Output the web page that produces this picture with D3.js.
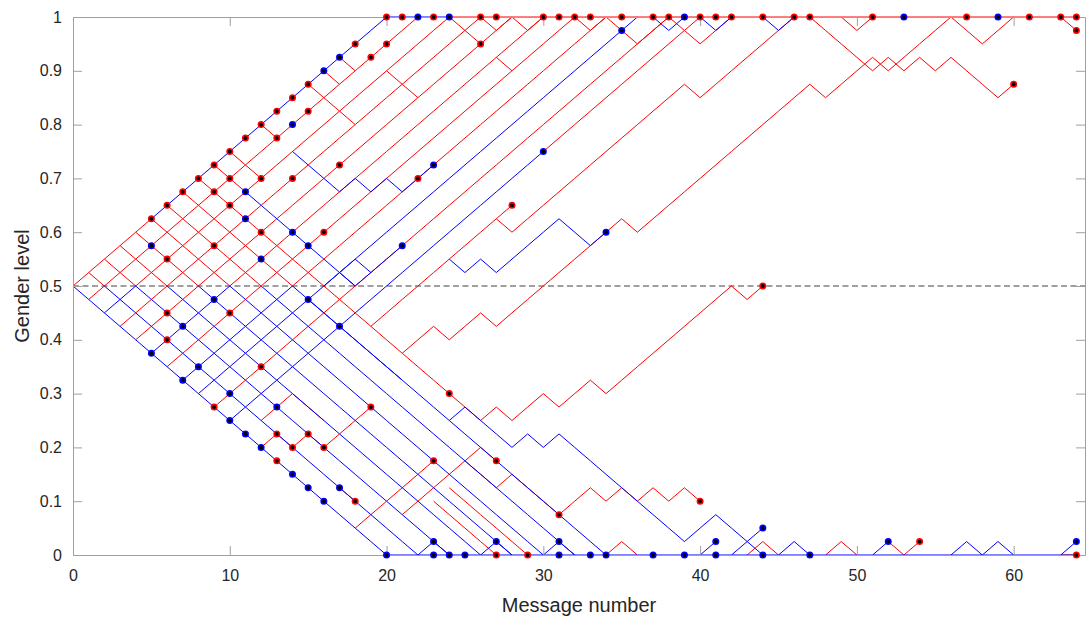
<!DOCTYPE html>
<html>
<head>
<meta charset="utf-8">
<script src="https://cdn.jsdelivr.net/npm/d3@7/dist/d3.min.js"></script>
<style>
  body { margin: 0; background: #fff; }
  text { font-family: "Liberation Sans", Arial, sans-serif; fill: #262626; }
</style>
</head>
<body>
<div id="chart-area"></div>
<script>
const MARGIN = { LEFT: 73, RIGHT: 1, TOP: 17, BOTTOM: 68 };
const WIDTH = 1086 - MARGIN.LEFT - MARGIN.RIGHT;
const HEIGHT = 623 - MARGIN.TOP - MARGIN.BOTTOM;

// one step of the gender level per message
const STEP = 0.025;

// paths: [start message, start level (in steps), runs: u=up d=down f=flat]
const redPaths = [
  [0, 20, "u5"],
  [1, 19, "u21"], [3, 17, "u23"], [4, 16, "u24"], [6, 14, "u26"],
  [4, 20, "u20"], [10, 20, "u20"], [14, 20, "u20"], [9, 11, "u29"], [30, 30, "u10"],
  [24, 40, "f40"],
  [1, 21, "d1"], [2, 22, "d2"], [3, 23, "d3"], [4, 24, "d4"], [5, 25, "d5"],
  [6, 26, "d6"], [7, 27, "d7"], [8, 28, "d16"], [9, 29, "d2"],
  [10, 30, "d2"], [12, 32, "d1"], [15, 35, "d3"], [16, 36, "d1"], [17, 37, "d1"],
  [20, 36, "d2"], [27, 37, "d1"],
  [24, 40, "d2"], [26, 40, "d1u1"], [28, 40, "d1u1"], [32, 40, "d1u1"], [34, 40, "d2u2"],
  [38, 40, "d2u2"], [49, 40, "d1u1"], [63, 40, "d1"],
  [47, 40, "d4u1d1u1d1u1d3u1"],
  [21, 15, "u2d1u2d1u8d1u11d1u3d1u4d2u2"],
  [24, 12, "d2u1d1u2d1u2d1u8d1u1"],
  [19, 17, "u9"], [27, 25, "d1u11d1u6"],
  [12, 8, "u1d1u1d1"], [12, 10, "u2d2"], [16, 8, "u3"], [17, 5, "d1"], [18, 2, "u5"], [21, 3, "u5d1"],
  [25, 7, "d2u1d3u2d1u1d1u1d1u1d1"], [23, 4, "d4"], [24, 5, "d5"],
  [34, 0, "u1d1"], [43, 0, "u1d1"], [48, 0, "u1d1"], [52, 1, "d1u1"], [63, 0, "f1"]
];

const bluePaths = [
  [5, 25, "u15f4"],
  [0, 20, "d20"], [20, 0, "f44"],
  [2, 18, "u2"], [5, 15, "u5"], [7, 13, "u7"], [8, 12, "u28"], [10, 10, "u20"],
  [2, 20, "d20"], [4, 20, "d20"], [6, 20, "d20"], [8, 20, "d20"], [10, 20, "d20"], [12, 20, "d20"],
  [14, 20, "d10u1d3u1d1u1d8u2d3"], [24, 10, "d10"],
  [11, 27, "d7"], [14, 30, "d3u1d1u1d1u2"], [15, 19, "d2"],
  [24, 22, "d1u1d1u4d2u1"],
  [16, 20, "u2d1u2"], [17, 21, "d1u1"], [17, 17, "d4"],
  [40, 0, "u1"], [42, 0, "u2"], [45, 0, "u1d1"], [51, 0, "u1"], [56, 0, "u1d1u1d1"],
  [63, 0, "u1"], [22, 0, "u1d1"], [26, 0, "u1d1"], [30, 0, "u1d1"],
  [37, 40, "d1u1"], [40, 40, "d1u1"], [44, 40, "d1u1"]
];

// end of a conversation: [message, level (in steps)]
const redDots = [
  [5, 25], [6, 26], [7, 27], [8, 28], [9, 29], [10, 30], [11, 31], [12, 32], [13, 33], [14, 34], [15, 35], [18, 38],
  [9, 27], [10, 28], [12, 28], [14, 28], [13, 31], [15, 33], [10, 26], [12, 24], [16, 24], [9, 23], [6, 22],
  [19, 37], [20, 38], [17, 29], [22, 28], [26, 38], [28, 26],
  [6, 18], [10, 18], [6, 16], [12, 14], [9, 11], [13, 7], [13, 9], [14, 8], [15, 9], [16, 8],
  [24, 12], [19, 11], [23, 7], [27, 7], [18, 4], [31, 3], [40, 4], [44, 20], [60, 35], [64, 39],
  [54, 1], [64, 0], [27, 0], [29, 0],
  [20, 40], [21, 40], [23, 40], [26, 40], [27, 40], [30, 40], [31, 40], [32, 40], [33, 40], [35, 40],
  [37, 40], [38, 40], [40, 40], [41, 40], [42, 40], [44, 40], [46, 40], [47, 40], [51, 40], [57, 40],
  [61, 40], [63, 40], [64, 40]
];

const blueDots = [
  [16, 36], [17, 37], [11, 27], [14, 32], [11, 25], [14, 24], [5, 23], [12, 22], [15, 23], [21, 23],
  [23, 29], [30, 30], [17, 17], [9, 19], [15, 19], [7, 17], [5, 15], [8, 14], [7, 13], [10, 12],
  [10, 10], [11, 9], [12, 8], [14, 6], [15, 5], [16, 4], [13, 11], [17, 5], [23, 1], [27, 1], [31, 1],
  [41, 1], [44, 2], [52, 1], [64, 1], [34, 24], [35, 39],
  [20, 0], [23, 0], [24, 0], [25, 0], [31, 0], [33, 0], [34, 0], [37, 0], [39, 0], [41, 0], [44, 0], [47, 0],
  [22, 40], [24, 40], [39, 40], [53, 40], [59, 40]
];

const xTicks = [0, 10, 20, 30, 40, 50, 60];
const yTicks = [0, 0.1, 0.2, 0.3, 0.4, 0.5, 0.6, 0.7, 0.8, 0.9, 1];

const svg = d3.select("#chart-area").append("svg")
  .attr("width", WIDTH + MARGIN.LEFT + MARGIN.RIGHT)
  .attr("height", HEIGHT + MARGIN.TOP + MARGIN.BOTTOM);

const g = svg.append("g")
  .attr("transform", `translate(${MARGIN.LEFT}, ${MARGIN.TOP})`);

const x = d3.scaleLinear().domain([0, 64.55]).range([0, WIDTH]);
const y = d3.scaleLinear().domain([0, 1]).range([HEIGHT, 0]);

// turn a run string into lattice points
function toPoints(p) {
  const pts = [[p[0], p[1]]];
  let m = p[0], k = p[1];
  p[2].match(/[udf]\d+/g).forEach(run => {
    const n = +run.slice(1);
    for (let i = 0; i < n; i++) {
      m += 1;
      if (run[0] === "u") k += 1;
      if (run[0] === "d") k -= 1;
      pts.push([m, k]);
    }
  });
  return pts;
}

const line = d3.line()
  .x(d => x(d[0]))
  .y(d => y(d[1] * STEP));

// 0.5 reference line
g.append("line")
  .attr("x1", 0).attr("x2", WIDTH)
  .attr("y1", y(0.5)).attr("y2", y(0.5))
  .attr("stroke", "#404040")
  .attr("stroke-width", 1)
  .attr("stroke-dasharray", "6,3.5");

g.selectAll(".red-path").data(redPaths).enter().append("path")
  .attr("class", "red-path")
  .attr("fill", "none")
  .attr("stroke", "#ff0000")
  .attr("stroke-width", 1)
  .attr("d", d => line(toPoints(d)));

g.selectAll(".blue-path").data(bluePaths).enter().append("path")
  .attr("class", "blue-path")
  .attr("fill", "none")
  .attr("stroke", "#0000ff")
  .attr("stroke-width", 1)
  .attr("d", d => line(toPoints(d)));

// axes box, ticks pointing in
const xAxisCall = d3.axisBottom(x).tickValues(xTicks).tickSizeInner(-9).tickSizeOuter(0).tickPadding(15);
const yAxisCall = d3.axisLeft(y).tickValues(yTicks).tickFormat(d3.format("~g")).tickSizeInner(-9).tickSizeOuter(0).tickPadding(11);
const xTopCall = d3.axisTop(x).tickValues(xTicks).tickSizeInner(-9).tickSizeOuter(0).tickFormat("");
const yRightCall = d3.axisRight(y).tickValues(yTicks).tickSizeInner(-9).tickSizeOuter(0).tickFormat("");

const xAxis = g.append("g").attr("class", "x axis")
  .attr("transform", `translate(0, ${HEIGHT})`).call(xAxisCall);
const yAxis = g.append("g").attr("class", "y axis").call(yAxisCall);
g.append("g").attr("transform", "translate(0, 0)").call(xTopCall);
g.append("g").attr("transform", `translate(${WIDTH}, 0)`).call(yRightCall);

g.selectAll(".domain, .tick line").attr("stroke", "#a0a0a0");
xAxis.selectAll("text").attr("font-size", "16px");
yAxis.selectAll("text").attr("font-size", "16px");

// dots drawn last
g.selectAll(".red-dot").data(redDots).enter().append("circle")
  .attr("class", "red-dot")
  .attr("cx", d => x(d[0]))
  .attr("cy", d => y(d[1] * STEP))
  .attr("r", 2.7)
  .attr("fill", "#000")
  .attr("stroke", "#ff0000")
  .attr("stroke-width", 1.6);

g.selectAll(".blue-dot").data(blueDots).enter().append("circle")
  .attr("class", "blue-dot")
  .attr("cx", d => x(d[0]))
  .attr("cy", d => y(d[1] * STEP))
  .attr("r", 2.7)
  .attr("fill", "#000")
  .attr("stroke", "#0000ff")
  .attr("stroke-width", 1.6);

// axis labels
g.append("text")
  .attr("x", WIDTH / 2)
  .attr("y", HEIGHT + 57)
  .attr("font-size", "20px")
  .attr("text-anchor", "middle")
  .text("Message number");
g.append("text")
  .attr("transform", "rotate(-90)")
  .attr("x", -HEIGHT / 2)
  .attr("y", -44)
  .attr("font-size", "20px")
  .attr("text-anchor", "middle")
  .text("Gender level");
</script>
</body>
</html>
